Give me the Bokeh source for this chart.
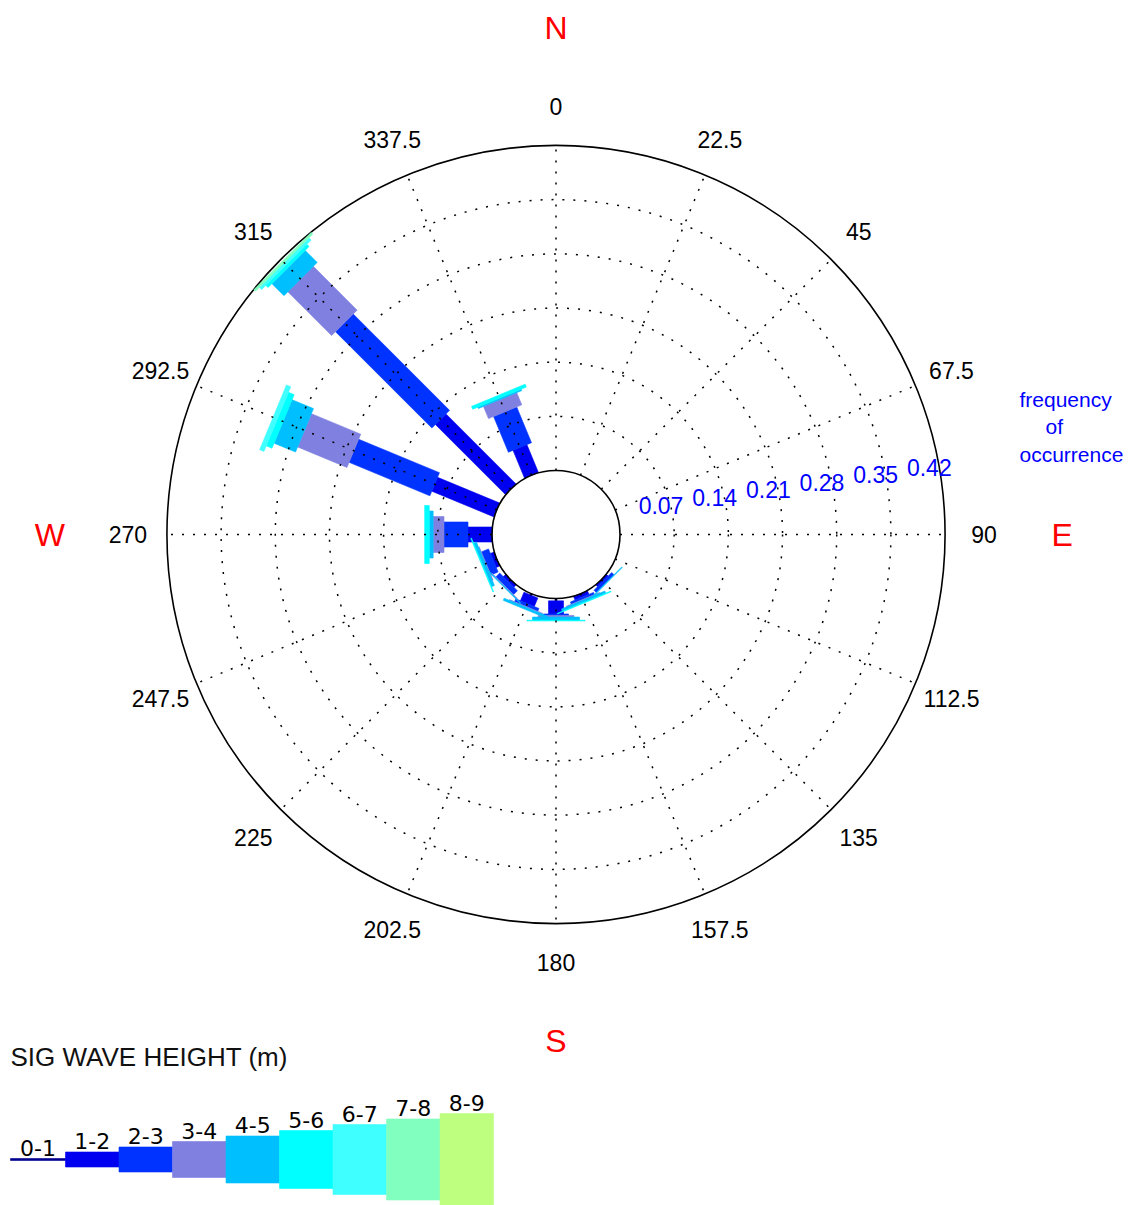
import math
from bokeh.plotting import figure
from bokeh.models import Range1d, ColumnDataSource
from bokeh.embed import file_html
from bokeh.resources import INLINE
from bokeh.core.properties import value

# ---------------- data ----------------
directions = [0, 22.5, 45, 67.5, 90, 112.5, 135, 157.5, 180, 202.5, 225, 247.5, 270, 292.5, 315, 337.5]
direction_labels = ["0", "22.5", "45", "67.5", "90", "112.5", "135", "157.5", "180",
                    "202.5", "225", "247.5", "270", "292.5", "315", "337.5"]
classes = ["0-1", "1-2", "2-3", "3-4", "4-5", "5-6", "6-7", "7-8", "8-9"]

# frequency of occurrence, per wave-height class, per direction bin
f_0_1 = [0, 0, 0, 0, 0, 0, 0, 0, 0.003, 0.002, 0, 0, 0, 0, 0, 0]
f_1_2 = [0, 0, 0, 0, 0, 0, 0.003, 0.005, 0.017, 0.012, 0.004, 0.005, 0.031, 0.087, 0.128, 0.039]
f_2_3 = [0, 0, 0, 0, 0, 0, 0.004, 0.003, 0.002, 0.004, 0.007, 0.010, 0.031, 0.113, 0.176, 0.050]
f_3_4 = [0, 0, 0, 0, 0, 0, 0, 0.001, 0.002, 0.001, 0.001, 0.001, 0.014, 0.069, 0.080, 0.017]
f_4_5 = [0, 0, 0, 0, 0, 0, 0.001, 0.003, 0.004, 0.003, 0.001, 0.004, 0.005, 0.030, 0.022, 0.002]
f_5_6 = [0, 0, 0, 0, 0, 0, 0, 0.001, 0.001, 0, 0, 0.001, 0.006, 0.008, 0.004, 0.004]
f_6_7 = [0, 0, 0, 0, 0, 0, 0, 0, 0, 0, 0, 0, 0, 0.006, 0.004, 0]
f_7_8 = [0, 0, 0, 0, 0, 0, 0, 0, 0, 0, 0, 0, 0, 0, 0.003, 0]
f_8_9 = [0, 0, 0, 0, 0, 0, 0, 0, 0, 0, 0, 0, 0, 0, 0, 0]
series = [f_0_1, f_1_2, f_2_3, f_3_4, f_4_5, f_5_6, f_6_7, f_7_8, f_8_9]

freq_ticks = [0.07, 0.14, 0.21, 0.28, 0.35, 0.42]
freq_tick_labels = ["0.07", "0.14", "0.21", "0.28", "0.35", "0.42"]
compass_labels = ["N", "E", "S", "W"]
compass_dirs = [0, 90, 180, 270]

# ---------------- style ----------------
colors = ["#00008F", "#0000F0", "#0033FF", "#8080E0", "#00BFFF",
          "#00FFFF", "#40FFFF", "#80FFBF", "#BFFF80"]
widths_px = [2, 15, 25, 36, 47, 58, 70, 81, 92]
FONT = value("Liberation Sans")

CX, CY = 555.5, 534.0      # centre of rose in page pixels
S = 774.0                  # pixels per unit of frequency
R0 = 64.0 / S              # inner (empty) circle radius
ROUT = R0 + freq_ticks[-1]
MARGIN = 0
W, H = 1130, 1205


def P(X, Y):
    return (X - CX) / S, (CY - Y) / S


p = figure(width=W, height=H, output_backend="svg", toolbar_location=None,
           x_range=Range1d((MARGIN - CX) / S, (MARGIN + W - CX) / S),
           y_range=Range1d((CY - MARGIN - H) / S, (CY - MARGIN) / S),
           x_axis_location=None, y_axis_location=None, min_border=0)
p.grid.visible = False
p.outline_line_color = None
p.background_fill_color = "white"

# outer solid circle
p.circle(x=[0], y=[0], radius=ROUT, fill_color=None, line_color="black", line_width=1.6)

# bars
cum = [0.0] * len(directions)
for ci, vals in enumerate(series):
    xs, ys, ls, angs = [], [], [], []
    for j, d in enumerate(directions):
        v = vals[j]
        if v > 0:
            th = math.radians(d)
            mid = R0 + cum[j] + v / 2
            xs.append(mid * math.sin(th))
            ys.append(mid * math.cos(th))
            ls.append(v)
            angs.append(math.pi / 2 - th)
        cum[j] += v
    if xs:
        src = ColumnDataSource(dict(x=xs, y=ys, l=ls, a=angs))
        p.rect(x="x", y="y", width="l", height=widths_px[ci], height_units="screen",
               angle="a", source=src, fill_color=colors[ci], line_color=colors[ci],
               line_width=0.6)

# dotted grid on top
p.circle(x=[0] * 5, y=[0] * 5, radius=[R0 + f for f in freq_ticks[:-1]],
         fill_color=None, line_color="black", line_width=1.5, line_dash="2 9")
p.segment(x0=[R0 * math.sin(math.radians(d)) for d in directions],
          y0=[R0 * math.cos(math.radians(d)) for d in directions],
          x1=[ROUT * math.sin(math.radians(d)) for d in directions],
          y1=[ROUT * math.cos(math.radians(d)) for d in directions],
          line_color="black", line_width=1.5, line_dash="2 9")

# inner circle
p.circle(x=[0], y=[0], radius=R0, fill_color=None, line_color="black", line_width=1.6)

# direction labels
rl = ROUT + 39 / S
p.text(x=[rl * math.sin(math.radians(d)) for d in directions],
       y=[rl * math.cos(math.radians(d)) for d in directions],
       text=direction_labels, text_font=FONT, text_font_size=value("23px"),
       text_align="center", text_baseline="middle", text_color="black")

# compass letters
rc = ROUT + 117 / S
p.text(x=[rc * math.sin(math.radians(d)) for d in compass_dirs],
       y=[rc * math.cos(math.radians(d)) for d in compass_dirs],
       text=compass_labels, text_font=FONT, text_font_size=value("32px"),
       text_align="center", text_baseline="middle", text_color="#FF0000")

# frequency ring labels
fa = math.radians(8)
p.text(x=[(R0 + f) * math.cos(fa) for f in freq_ticks],
       y=[(R0 + f) * math.sin(fa) for f in freq_ticks],
       text=freq_tick_labels, x_offset=-12, y_offset=-13,
       text_font=FONT, text_font_size=value("23px"),
       text_align="center", text_baseline="middle", text_color="#0000FF")

for t, X, Y in [("frequency", 1019, 399), ("of", 1045, 426), ("occurrence", 1019, 454)]:
    x, y = P(X, Y)
    p.text(x=[x], y=[y], text=[t], text_font=FONT, text_font_size=value("21px"),
           text_align="left", text_baseline="middle", text_color="#0000FF")

# legend
tx, ty = P(10, 1056)
p.text(x=[tx], y=[ty], text=["SIG WAVE HEIGHT (m)"], text_font=FONT,
       text_font_size=value("26px"), text_align="left", text_baseline="middle",
       text_color="#111111")

LEG_Y = 1159
lefts = [10] + [65 + 53.5 * (i - 1) for i in range(1, len(classes))]
rights = [65] + [65 + 53.5 * i for i in range(1, len(classes))]
for i, c in enumerate(classes):
    xc, yc = P((lefts[i] + rights[i]) / 2, LEG_Y)
    p.rect(x=[xc], y=[yc], width=(rights[i] - lefts[i]) / S, height=widths_px[i],
           height_units="screen", fill_color=colors[i], line_color=colors[i], line_width=0.6)
    lx, ly = P((lefts[i] + rights[i]) / 2, LEG_Y - widths_px[i] / 2 - 3)
    p.text(x=[lx], y=[ly], text=[c], text_font=value("DejaVu Sans"), text_font_size=value("22px"),
           text_align="center", text_baseline="bottom", text_color="black")

open("out.html", "w").write(file_html(p, INLINE))
